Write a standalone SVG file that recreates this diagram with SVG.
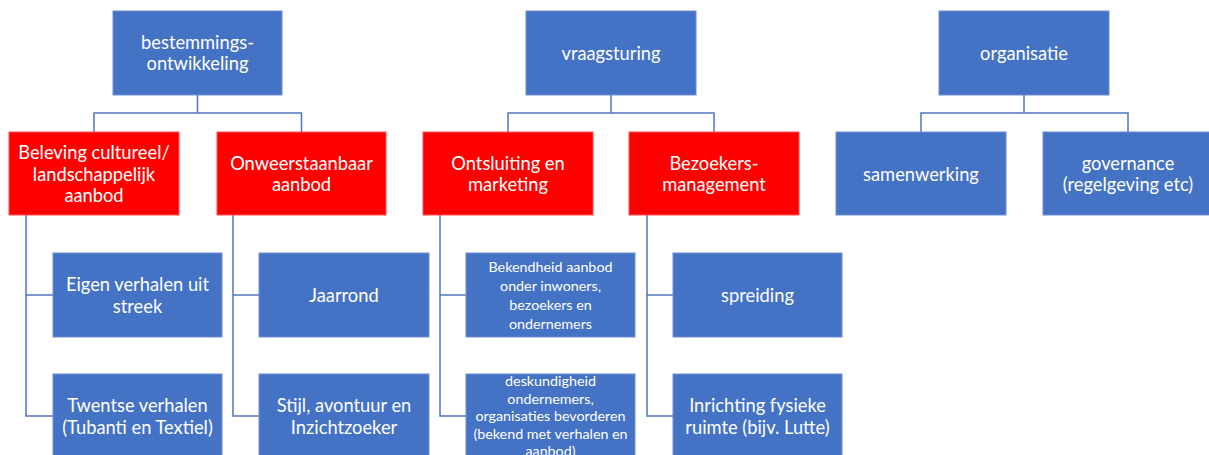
<svg xmlns="http://www.w3.org/2000/svg" width="1209" height="455" viewBox="0 0 1209 455">
<style>
.b{fill:#4472C4;stroke:#6f8fd0;stroke-width:1}
.r{fill:#FF0000;stroke:#ff5050;stroke-width:1}
text{font-family:Lato,"Open Sans",sans-serif;font-size:18.3px;fill:#fff;text-anchor:middle;dominant-baseline:central}
.s{font-size:14.3px}
.c{fill:none;stroke:#4f75c0;stroke-width:1.5}
</style>
<rect width="1209" height="455" fill="#fff"/>
<g id="connectors" class="c">
<path d="M197.5 95V113H94V132M197.5 113H301.5V132"/>
<path d="M611 95V113H508V132M611 113H714V132"/>
<path d="M1024 95V113H921V132M1024 113H1128V132"/>
<path d="M26 215V416H53M26 295H53"/>
<path d="M233 215V416H259M233 295H259"/>
<path d="M440 215V416H466M440 295H466"/>
<path d="M647 215V416H673M647 295H673"/>
</g>
<g id="n1"><rect class="b" x="113" y="11" width="169" height="84"/><text x="197.5" y="42">bestemmings-</text><text x="197.5" y="63">ontwikkeling</text></g>
<g id="n2"><rect class="b" x="526" y="11" width="170" height="84"/><text x="611" y="53">vraagsturing</text></g>
<g id="n3"><rect class="b" x="939" y="11" width="170" height="84"/><text x="1024" y="53">organisatie</text></g>
<g id="n4"><rect class="r" x="9" y="132" width="170" height="83"/><text x="94" y="152">Beleving cultureel/</text><text x="94" y="173.5">landschappelijk</text><text x="94" y="195">aanbod</text></g>
<g id="n5"><rect class="r" x="217" y="132" width="169" height="83"/><text x="301.5" y="162.5">Onweerstaanbaar</text><text x="301.5" y="184">aanbod</text></g>
<g id="n6"><rect class="r" x="423" y="132" width="170" height="83"/><text x="508" y="162.5">Ontsluiting en</text><text x="508" y="184">marketing</text></g>
<g id="n7"><rect class="r" x="629" y="132" width="170" height="83"/><text x="714" y="162.5">Bezoekers-</text><text x="714" y="184">management</text></g>
<g id="n8"><rect class="b" x="836" y="132" width="170" height="83"/><text x="921" y="173.5">samenwerking</text></g>
<g id="n9"><rect class="b" x="1043" y="132" width="170" height="83"/><text x="1128" y="162.5">governance</text><text x="1128" y="184">(regelgeving etc)</text></g>
<g id="n10"><rect class="b" x="53" y="253" width="169" height="84"/><text x="137.5" y="284">Eigen verhalen uit</text><text x="137.5" y="305.5">streek</text></g>
<g id="n11"><rect class="b" x="53" y="374" width="169" height="84"/><text x="137.5" y="405">Twentse verhalen</text><text x="137.5" y="426.5">(Tubanti en Textiel)</text></g>
<g id="n12"><rect class="b" x="259" y="253" width="170" height="84"/><text x="344" y="295">Jaarrond</text></g>
<g id="n13"><rect class="b" x="259" y="374" width="170" height="84"/><text x="344" y="405">Stijl, avontuur en</text><text x="344" y="426.5">Inzichtzoeker</text></g>
<g id="n14"><rect class="b" x="466" y="253" width="169" height="84"/><text class="s" x="550.5" y="266">Bekendheid aanbod</text><text class="s" x="550.5" y="285">onder inwoners,</text><text class="s" x="550.5" y="304">bezoekers en</text><text class="s" x="550.5" y="323">ondernemers</text></g>
<g id="n15"><rect class="b" x="466" y="374" width="169" height="84"/><text class="s" x="550.5" y="380">deskundigheid</text><text class="s" x="550.5" y="398">ondernemers,</text><text class="s" x="550.5" y="415.5">organisaties bevorderen</text><text class="s" x="550.5" y="433">(bekend met verhalen en</text><text class="s" x="550.5" y="450.5">aanbod)</text></g>
<g id="n16"><rect class="b" x="673" y="253" width="169" height="84"/><text x="757.5" y="295">spreiding</text></g>
<g id="n17"><rect class="b" x="673" y="374" width="169" height="84"/><text x="757.5" y="405">Inrichting fysieke</text><text x="757.5" y="426.5">ruimte (bijv. Lutte)</text></g>
</svg>
